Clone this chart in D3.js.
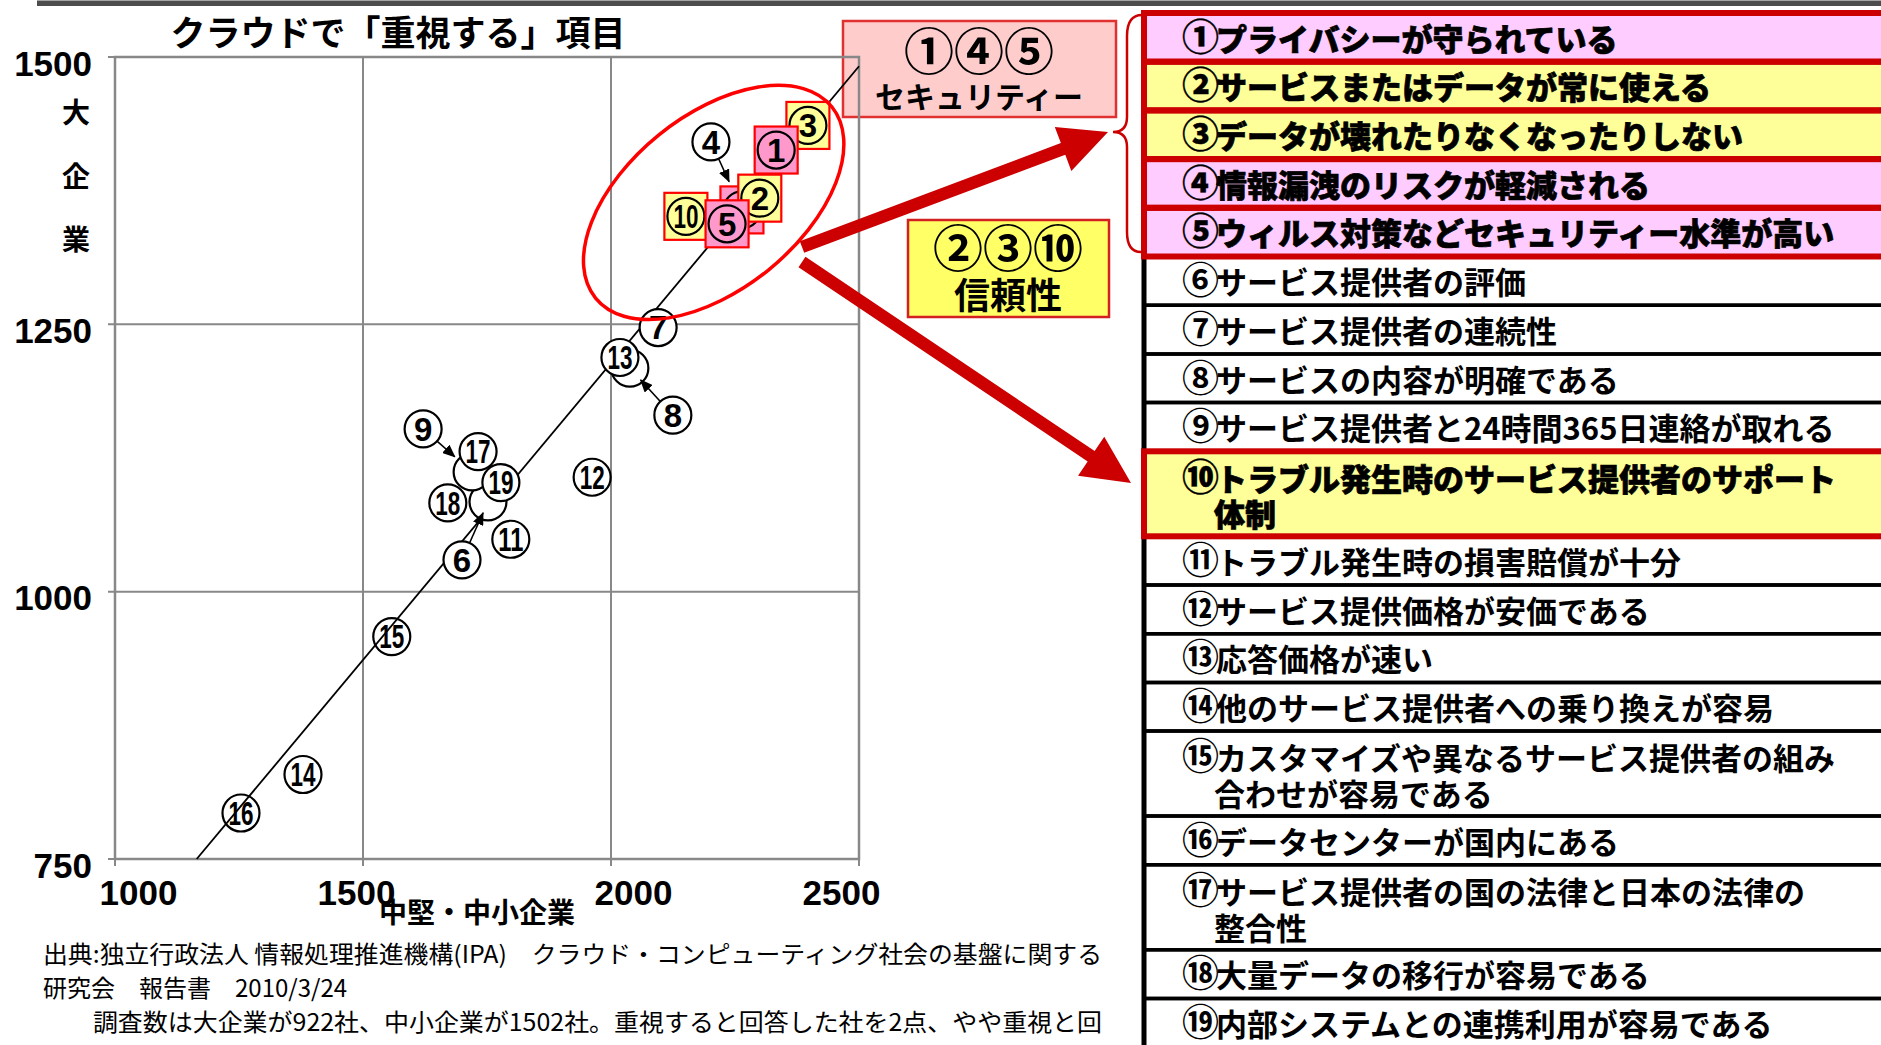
<!DOCTYPE html>
<html lang="ja">
<head>
<meta charset="utf-8">
<title>クラウドで「重視する」項目</title>
<script src="https://cdn.jsdelivr.net/npm/d3@7"></script>
<style>
  html, body { margin: 0; padding: 0; background: #fff; }
  svg { display: block; }
  .jp { font-family: "Noto Sans CJK JP", "Noto Sans CJK SC", sans-serif; }
  .num { font-family: "Liberation Sans", Arial, sans-serif; font-weight: bold; }
</style>
</head>
<body>
<div id="chart"></div>
<script>
// scores: x = 中堅・中小企業, y = 大企業
const itemNo = d3.range(1, 20);
const smeScore   = [2333, 2300, 2397, 2264, 2234, 1752, 2095, 2038, 1720, 2151, 1798, 1962, 2018, 1379, 1558, 1254, 1732, 1671, 1778];
const largeScore = [1413, 1368, 1436, 1357, 1344, 1084, 1247, 1209, 1112, 1351, 1049, 1107, 1219,  829,  958,  793, 1131, 1083, 1102];

const itemText = [
  ['①プライバシーが守られている'],
  ['②サービスまたはデータが常に使える'],
  ['③データが壊れたりなくなったりしない'],
  ['④情報漏洩のリスクが軽減される'],
  ['⑤ウィルス対策などセキュリティー水準が高い'],
  ['⑥サービス提供者の評価'],
  ['⑦サービス提供者の連続性'],
  ['⑧サービスの内容が明確である'],
  ['⑨サービス提供者と24時間365日連絡が取れる'],
  ['⑩トラブル発生時のサービス提供者のサポート', '体制'],
  ['⑪トラブル発生時の損害賠償が十分'],
  ['⑫サービス提供価格が安価である'],
  ['⑬応答価格が速い'],
  ['⑭他のサービス提供者への乗り換えが容易'],
  ['⑮カスタマイズや異なるサービス提供者の組み', '合わせが容易である'],
  ['⑯データセンターが国内にある'],
  ['⑰サービス提供者の国の法律と日本の法律の', '整合性'],
  ['⑱大量データの移行が容易である'],
  ['⑲内部システムとの連携利用が容易である']
];

const securityItems = [1, 4, 5];
const reliabilityItems = [2, 3, 10];
const xTicks = [1000, 1500, 2000, 2500];
const yTicks = [750, 1000, 1250, 1500];

const titleText = 'クラウドで「重視する」項目';
const xTitle = '中堅・中小企業';
const yTitle = ['大', '企', '業'];
const securityLabel = ['①④⑤', 'セキュリティー'];
const reliabilityLabel = ['②③⑩', '信頼性'];
const sourceLines = [
  '出典:独立行政法人 情報処理推進機構(IPA)　クラウド・コンピューティング社会の基盤に関する',
  '研究会　報告書　2010/3/24',
  '　　調査数は大企業が922社、中小企業が1502社。重視すると回答した社を2点、やや重視と回',
  '答した社を1点として、合計点数をプロットしたもの'
];

// ---- layout ----
const W = 1881, H = 1045;
const plot = {left: 115, right: 859, top: 57, bottom: 859};
const xTickNudge = [23, -7, 22, -18];   // hand placed labels in the original

const x = d3.scaleLinear().domain([1000, 2500]).range([plot.left, plot.right]);
const y = d3.scaleLinear().domain([750, 1500]).range([plot.bottom, plot.top]);

const svg = d3.select('#chart').append('svg')
  .attr('width', W)
  .attr('height', H)
  .attr('viewBox', [0, 0, W, H]);

svg.append('rect').attr('width', W).attr('height', H).attr('fill', '#fff');

// grey rule along the top
svg.append('rect')
  .attr('x', 37).attr('y', 0.5)
  .attr('width', W - 37).attr('height', 5.5)
  .attr('fill', '#4d4d4d');

// callout box for the security items (sits under the plot grid)
const secG = svg.append('g').attr('class', 'jp');
secG.append('rect')
  .attr('x', 843).attr('y', 21).attr('width', 273).attr('height', 96)
  .attr('fill', '#ffcccc').attr('stroke', '#e03030').attr('stroke-width', 2.5);
secG.append('text')
  .attr('x', 979).attr('y', 52).attr('dy', '0.36em')
  .attr('text-anchor', 'middle').attr('font-size', 50).attr('font-weight', 700)
  .text(securityLabel[0]);
secG.append('text')
  .attr('x', 979).attr('y', 97).attr('dy', '0.36em')
  .attr('text-anchor', 'middle').attr('font-size', 30).attr('font-weight', 700)
  .text(securityLabel[1]);

// title
svg.append('text')
  .attr('class', 'jp')
  .attr('x', 398).attr('y', 33).attr('dy', '0.36em')
  .attr('text-anchor', 'middle').attr('font-size', 35).attr('font-weight', 700)
  .text(titleText);

// grid, frame and ticks
const grid = svg.append('g').attr('stroke', '#888').attr('stroke-width', 2);
grid.selectAll('line.gx')
  .data(xTicks)
  .join('line')
  .attr('class', 'gx')
  .attr('x1', d => x(d)).attr('x2', d => x(d))
  .attr('y1', plot.top).attr('y2', plot.bottom + 7);
grid.selectAll('line.gy')
  .data(yTicks)
  .join('line')
  .attr('class', 'gy')
  .attr('x1', plot.left - 7).attr('x2', plot.right)
  .attr('y1', d => y(d)).attr('y2', d => y(d));
grid.append('rect')
  .attr('x', plot.left).attr('y', plot.top)
  .attr('width', plot.right - plot.left).attr('height', plot.bottom - plot.top)
  .attr('fill', 'none').attr('stroke-width', 2.5);

// axis labels through d3 axes, lines hidden (grid draws them)
const xAxis = svg.append('g')
  .attr('transform', `translate(0,${plot.bottom})`)
  .call(d3.axisBottom(x).tickValues(xTicks).tickSize(0).tickPadding(21).tickFormat(d3.format('d')));
xAxis.select('.domain').remove();
xAxis.selectAll('text')
  .attr('class', 'num')
  .attr('font-size', 35)
  .attr('fill', '#000')
  .attr('dx', (d, i) => xTickNudge[i]);

const yAxis = svg.append('g')
  .attr('transform', `translate(${plot.left},0)`)
  .call(d3.axisLeft(y).tickValues(yTicks).tickSize(0).tickPadding(23).tickFormat(d3.format('d')));
yAxis.select('.domain').remove();
yAxis.selectAll('text')
  .attr('class', 'num')
  .attr('font-size', 35)
  .attr('fill', '#000')
  .attr('dy', '0.52em');

svg.append('text')
  .attr('class', 'jp')
  .attr('x', 477).attr('y', 913).attr('dy', '0.36em')
  .attr('text-anchor', 'middle').attr('font-size', 28).attr('font-weight', 700)
  .text(xTitle);

svg.append('g').attr('class', 'jp')
  .selectAll('text')
  .data(yTitle)
  .join('text')
  .attr('x', 76).attr('y', (d, i) => 113 + i * 63.5).attr('dy', '0.36em')
  .attr('text-anchor', 'middle').attr('font-size', 28).attr('font-weight', 700)
  .text(d => d);

// least squares trend line, clipped to the plot
const mx = d3.mean(smeScore), my = d3.mean(largeScore);
const slope = d3.sum(smeScore, (v, i) => (v - mx) * (largeScore[i] - my)) /
              d3.sum(smeScore, v => (v - mx) * (v - mx));
const icpt = my - slope * mx;
const xStart = Math.max(1000, (750 - icpt) / slope);
const xEnd = Math.min(2500, (1500 - icpt) / slope);
svg.append('line')
  .attr('x1', x(xStart)).attr('y1', y(slope * xStart + icpt))
  .attr('x2', x(xEnd)).attr('y2', y(slope * xEnd + icpt))
  .attr('stroke', '#000').attr('stroke-width', 1.8);

// arrow head for the small callouts
svg.append('defs').append('marker')
  .attr('id', 'tip')
  .attr('markerUnits', 'userSpaceOnUse')
  .attr('markerWidth', 13).attr('markerHeight', 11)
  .attr('refX', 12).attr('refY', 5.5)
  .attr('orient', 'auto')
  .append('path')
  .attr('d', 'M0,0 L13,5.5 L0,11 z')
  .attr('fill', '#000');

const boxFill = n => securityItems.includes(n) ? '#ff99cc'
  : reliabilityItems.includes(n) ? '#ffff99' : null;

// labels that show the line through them
const seeThrough = [14, 15, 16];

// numbers moved aside with an arrow to their hidden point
const callouts = [
  {n: 4, dx: -31, dy: -68, gap: 31},
  {n: 6, dx: -26, dy: 58, gap: 12},
  {n: 8, dx: 43, dy: 47, gap: 16},
  {n: 9, dx: -49, dy: -43, gap: 23}
];
const movedAside = callouts.map(c => c.n);

const points = itemNo.map((n, i) => ({n, sx: smeScore[i], ly: largeScore[i]}));
const drawOrder = [4, 6, 8, 9, 3, 1, 2, 10, 5, 7, 11, 12, 13, 14, 15, 16, 17, 18, 19];

function drawBadge(g, n, fill, withNumber) {
  const bf = boxFill(n);
  if (bf) {
    g.append('rect')
      .attr('x', -21.5).attr('y', -23.5).attr('width', 43).attr('height', 47)
      .attr('fill', bf).attr('stroke', '#ff0000').attr('stroke-width', 2.2);
  }
  g.append('circle')
    .attr('r', 18.5)
    .attr('fill', bf ? 'none' : fill)
    .attr('stroke', '#000').attr('stroke-width', 2.2);
  if (!withNumber) return;
  const t = g.append('text')
    .attr('class', 'num')
    .attr('font-size', 33)
    .attr('dy', '0.36em')
    .text(n);
  if (n >= 10) {
    t.attr('x', -12.5).attr('textLength', 25).attr('lengthAdjust', 'spacingAndGlyphs');
  } else {
    t.attr('text-anchor', 'middle');
  }
}

// the original labels of moved items sit hidden under their neighbours
const labelsG = svg.append('g');
drawOrder.forEach(n => {
  const p = points[n - 1];
  const g = labelsG.append('g').attr('transform', `translate(${x(p.sx)},${y(p.ly)})`);
  drawBadge(g, n, seeThrough.includes(n) ? 'none' : '#fff', !movedAside.includes(n));
});

callouts.forEach(c => {
  const p = points[c.n - 1];
  const px = x(p.sx), py = y(p.ly);
  const cx = px + c.dx, cy = py + c.dy;
  const len = Math.hypot(c.dx, c.dy);
  const ux = -c.dx / len, uy = -c.dy / len;
  svg.append('line')
    .attr('x1', cx + ux * 18.5).attr('y1', cy + uy * 18.5)
    .attr('x2', px - ux * c.gap).attr('y2', py - uy * c.gap)
    .attr('stroke', '#000').attr('stroke-width', 1.6)
    .attr('marker-end', 'url(#tip)');
  const g = svg.append('g').attr('transform', `translate(${cx},${cy})`);
  g.append('circle').attr('r', 18.5).attr('fill', '#fff').attr('stroke', '#000').attr('stroke-width', 2.2);
  g.append('text').attr('class', 'num').attr('font-size', 33).attr('dy', '0.36em')
    .attr('text-anchor', 'middle').text(c.n);
});

// red ring round the top group
svg.append('ellipse')
  .attr('transform', `translate(${x(2207)},${y(1364)}) rotate(-39)`)
  .attr('rx', 152).attr('ry', 87)
  .attr('fill', 'none').attr('stroke', '#ff0000').attr('stroke-width', 3.5);

// thick red arrows
function blockArrow(x1, y1, x2, y2, w, hl, hw) {
  const a = Math.atan2(y2 - y1, x2 - x1);
  const L = Math.hypot(x2 - x1, y2 - y1);
  const pts = [[0, -w / 2], [L - hl, -w / 2], [L - hl, -hw], [L, 0], [L - hl, hw], [L - hl, w / 2], [0, w / 2]];
  const c = Math.cos(a), s = Math.sin(a);
  return pts.map(([u, v]) => [x1 + u * c - v * s, y1 + u * s + v * c]);
}
[[802, 247, 1108, 132], [802, 262, 1131, 483]].forEach(a => {
  svg.append('polygon')
    .attr('points', blockArrow(a[0], a[1], a[2], a[3], 12.5, 48, 23.5).join(' '))
    .attr('fill', '#cc0000');
});

// reliability box
const relG = svg.append('g').attr('class', 'jp');
relG.append('rect')
  .attr('x', 908).attr('y', 220).attr('width', 201).attr('height', 97)
  .attr('fill', '#ffff66').attr('stroke', '#d42020').attr('stroke-width', 2.5);
relG.append('text')
  .attr('x', 1008).attr('y', 249).attr('dy', '0.36em')
  .attr('text-anchor', 'middle').attr('font-size', 50).attr('font-weight', 700)
  .text(reliabilityLabel[0]);
relG.append('text')
  .attr('x', 1008).attr('y', 296).attr('dy', '0.36em')
  .attr('text-anchor', 'middle').attr('font-size', 36).attr('font-weight', 700)
  .text(reliabilityLabel[1]);

// brace in front of the table
svg.append('path')
  .attr('d', 'M1142,15 Q1127,15 1127,36 L1127,117 Q1127,132 1113,132 Q1127,132 1127,147 L1127,232 Q1127,252 1141,252')
  .attr('fill', 'none').attr('stroke', '#cc0000').attr('stroke-width', 2.5);

// ---- item table ----
const rowH = itemText.map(l => l.length > 1 ? 85 : 48.7);
const rowTop = [];
rowH.reduce((acc, h) => { rowTop.push(acc); return acc + h; }, 13);
const rows = itemText.map((lines, i) => ({n: i + 1, lines, top: rowTop[i], h: rowH[i]}));
const isHot = n => securityItems.includes(n) || reliabilityItems.includes(n);
const rowFill = n => securityItems.includes(n) ? '#ffccff'
  : reliabilityItems.includes(n) ? '#ffff99' : '#fff';

const table = svg.append('g');
const tx0 = 1144, tw = 760;

table.selectAll('rect.bg')
  .data(rows)
  .join('rect')
  .attr('class', 'bg')
  .attr('x', tx0).attr('y', d => d.top)
  .attr('width', tw).attr('height', d => d.h)
  .attr('fill', d => rowFill(d.n));

// black rules for plain rows
const plain = rows.filter(d => !isHot(d.n));
table.selectAll('line.rule')
  .data(plain.flatMap(d => [d.top, d.top + d.h]))
  .join('line')
  .attr('class', 'rule')
  .attr('x1', tx0).attr('x2', tx0 + tw)
  .attr('y1', d => d).attr('y2', d => d)
  .attr('stroke', '#000').attr('stroke-width', 3.5);
table.append('line')
  .attr('x1', tx0).attr('x2', tx0)
  .attr('y1', rows[5].top).attr('y2', H)
  .attr('stroke', '#000').attr('stroke-width', 5);

// red outlines for the highlighted rows
table.selectAll('rect.hot')
  .data(rows.filter(d => isHot(d.n)))
  .join('rect')
  .attr('class', 'hot')
  .attr('x', tx0).attr('y', d => d.top)
  .attr('width', tw).attr('height', d => d.h)
  .attr('fill', 'none').attr('stroke', '#cc0000').attr('stroke-width', 6);

const rowText = table.selectAll('g.row')
  .data(rows)
  .join('g')
  .attr('class', 'row jp');
const lineText = rowText.selectAll('text')
  .data(d => d.lines.map((t, j) => ({t, j, d})))
  .join('text')
  .attr('x', e => e.j === 0 ? 1182 : 1214)
  .attr('y', e => e.d.lines.length > 1 ? e.d.top + (e.j === 0 ? 26 : 64) : e.d.top + e.d.h / 2)
  .attr('font-size', 31)
  .attr('font-weight', e => isHot(e.d.n) ? 900 : 700)
  .attr('stroke', e => isHot(e.d.n) ? '#000' : null)
  .attr('stroke-width', e => isHot(e.d.n) ? 0.7 : null);

// circled number drawn a little larger, as in the original
lineText.filter(e => e.j === 0).each(function(e) {
  const t = d3.select(this);
  t.append('tspan').attr('dy', '0.36em').attr('font-size', 37).attr('stroke-width', 0.3).text(e.t.slice(0, 1));
  t.append('tspan').attr('dx', -3).text(e.t.slice(1));
});
lineText.filter(e => e.j > 0)
  .attr('dy', '0.36em')
  .text(e => e.t);

// ---- source note ----
const note = svg.append('g').attr('class', 'jp').attr('font-size', 24);
const noteLen = [1059, null, 1059, null];
sourceLines.forEach((s, i) => {
  const t = note.append('text')
    .attr('x', 43).attr('y', 954 + i * 34.3).attr('dy', '0.36em')
    .text(s);
  if (noteLen[i]) t.attr('textLength', noteLen[i]).attr('lengthAdjust', 'spacingAndGlyphs');
});
</script>
</body>
</html>
